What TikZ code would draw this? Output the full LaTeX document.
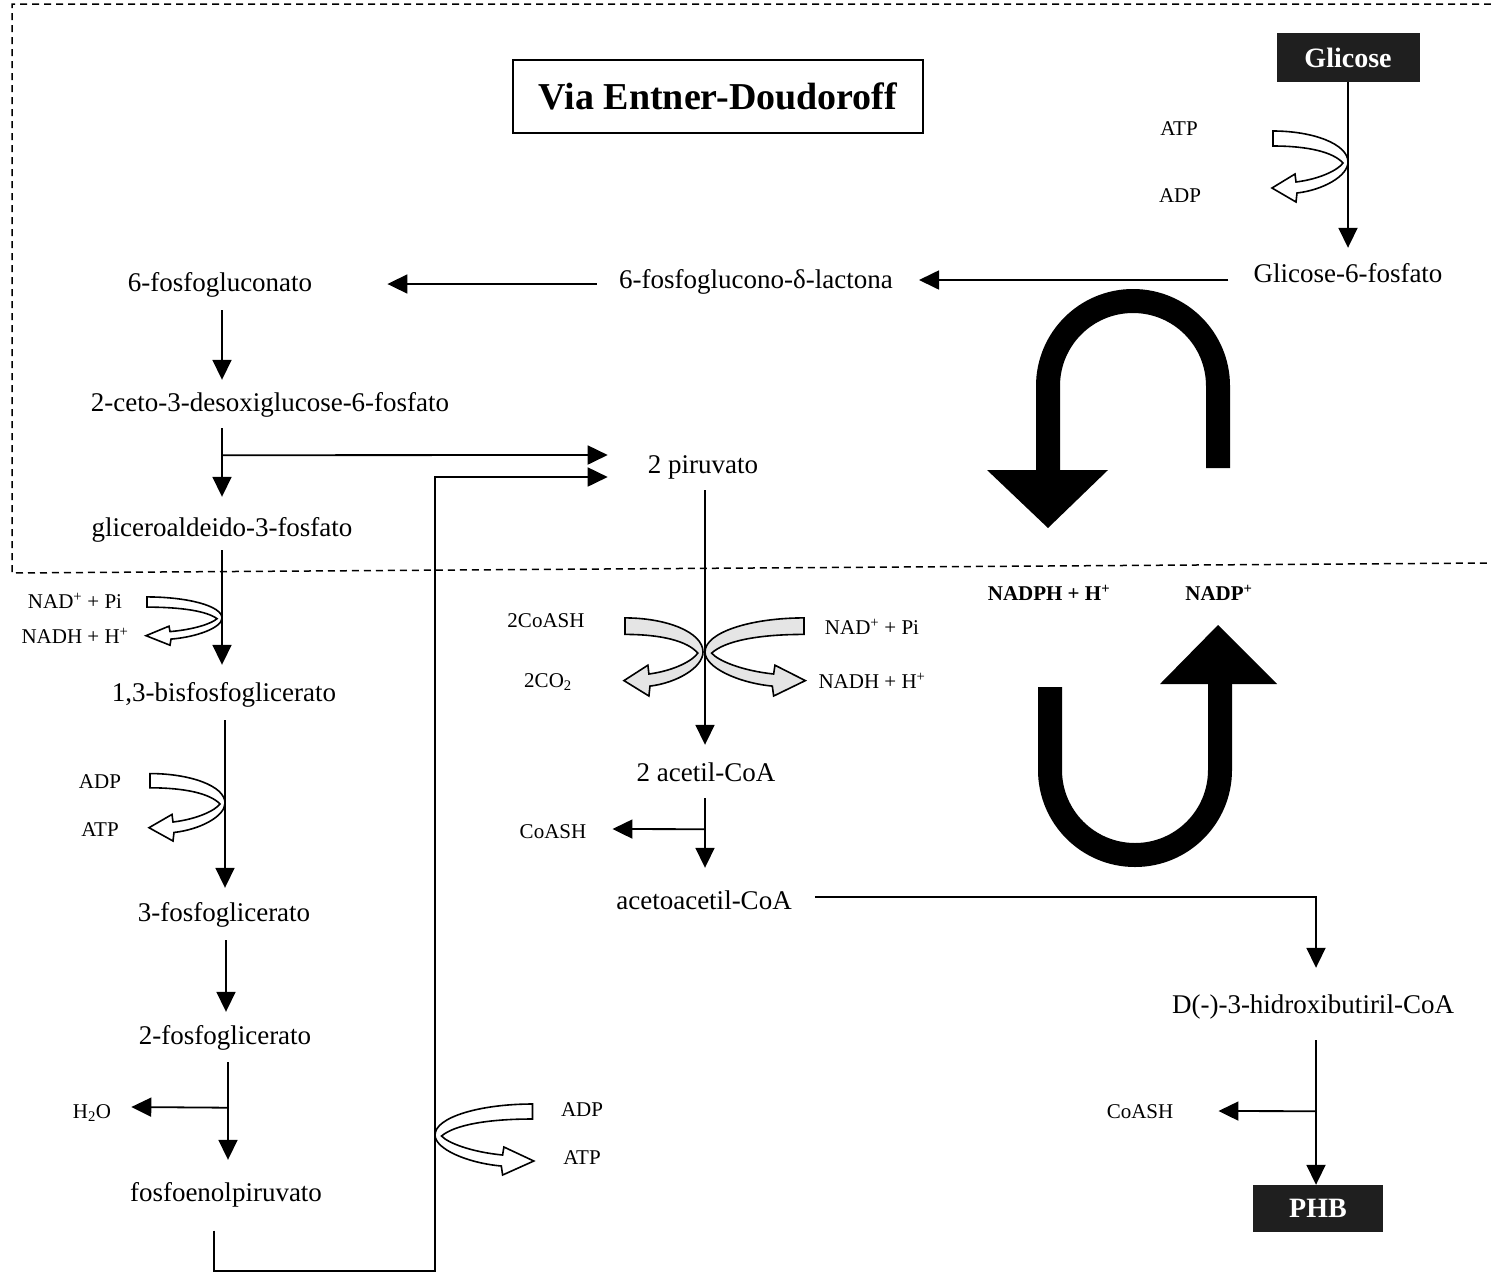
\documentclass[tikz,border=0pt]{standalone}
\usepackage{fontspec}
\setmainfont{Liberation Serif}
\usetikzlibrary{arrows.meta}
\tikzset{
  lbl/.style={inner sep=0pt, text height=19pt, text depth=6pt, font=\fontsize{27}{30}\selectfont},
  sml/.style={inner sep=0pt, font=\fontsize{21}{24}\selectfont},
  smb/.style={inner sep=0pt, font=\fontsize{21}{24}\selectfont\bfseries},
  arr/.style={line width=1.8pt, -{Triangle[length=20pt,width=19pt]}},
  darkbox/.style={fill=black!88, text=white, font=\fontsize{28}{30}\selectfont\bfseries, inner sep=0pt},
  bigarr/.style={line width=24pt},
  hollow/.style={line width=1.6pt, line join=miter},
}
\newcommand\hollowarr[5]{%
  \begin{scope}[shift={(#1,#2)},xscale=#3,yscale=#4]
    \filldraw[hollow, fill=#5] (-75,-31) .. controls (-35,-31) and (0,-18) .. (0,0)
      .. controls (0,14) and (-25,28) .. (-51,31) -- (-52,40) -- (-76,26) -- (-53,12) -- (-52,20)
      .. controls (-28,17) and (-10,8) .. (-5,1)
      .. controls (-15,-10) and (-40,-16) .. (-75,-16) -- cycle;
  \end{scope}}
\begin{document}
\begin{tikzpicture}[x=1pt,y=-1pt]
\useasboundingbox (0,0) rectangle (1491,1275);
\fill[white] (0,0) rectangle (1491,1275);
% dashed region
\draw[dash pattern=on 7pt off 5pt, line width=1.5pt] (1491,4) -- (12,4) -- (12,573) -- (1491,563);
% title
\node[draw, line width=1.5pt, minimum width=410pt, minimum height=73pt, inner sep=0pt,
      font=\fontsize{38}{41}\selectfont\bfseries] (title) at (718,96.5) {Via Entner-Doudoroff};
% boxes
\node[darkbox, minimum width=143pt, minimum height=49pt] (glc) at (1348,57.5) {Glicose};
\node[darkbox, minimum width=130pt, minimum height=47pt] (phb) at (1318,1208.5) {PHB};
% main labels
\node[lbl] (g6p) at (1348,276) {Glicose-6-fosfato};
\node[lbl] (lac) at (756,282) {6-fosfoglucono-δ-lactona};
\node[lbl] (fgn) at (220,285) {6-fosfogluconato};
\node[lbl] (kdpg) at (270,405) {2-ceto-3-desoxiglucose-6-fosfato};
\node[lbl] (gap) at (222,530) {gliceroaldeido-3-fosfato};
\node[lbl] (bpg) at (224,695) {1,3-bisfosfoglicerato};
\node[lbl] (pg3) at (224,915) {3-fosfoglicerato};
\node[lbl] (pg2) at (225,1038) {2-fosfoglicerato};
\node[lbl] (pep) at (226,1195) {fosfoenolpiruvato};
\node[lbl] (pyr) at (703,467) {2 piruvato};
\node[lbl] (acoa) at (706,775) {2 acetil-CoA};
\node[lbl] (aacoa) at (704,903) {acetoacetil-CoA};
\node[lbl] (hbcoa) at (1313,1007) {D(-)-3-hidroxibutiril-CoA};
% small labels
\node[sml] (atp1) at (1179,129) {ATP};
\node[sml] (adp1) at (1180,196) {ADP};
\node[sml] (nadpi1) at (75,601) {NAD\textsuperscript{+} + Pi};
\node[sml] (nadh1) at (75,636) {NADH + H\textsuperscript{+}};
\node[sml] (adp2) at (100,782) {ADP};
\node[sml] (atp2) at (100,830) {ATP};
\node[sml] (h2o) at (92,1113) {H\textsubscript{2}O};
\node[sml] (adp3) at (582,1110) {ADP};
\node[sml] (atp3) at (582,1158) {ATP};
\node[sml] (coash2) at (546,621) {2CoASH};
\node[sml] (co2) at (548,682) {2CO\textsubscript{2}};
\node[sml] (nadpi2) at (872,627) {NAD\textsuperscript{+} + Pi};
\node[sml] (nadh2) at (872,681) {NADH + H\textsuperscript{+}};
\node[sml] (coash1) at (553,832) {CoASH};
\node[sml] (coash3) at (1140,1112) {CoASH};
\node[smb] (nadph) at (1049,593) {NADPH + H\textsuperscript{+}};
\node[smb] (nadp) at (1219,593) {NADP\textsuperscript{+}};
% connectors
\draw[arr] (glc.south) -- ([shift={(0,-15.5)}]g6p.north);
\draw[arr] ([shift={(-25,4)}]g6p.west) -- ([shift={(26,-2)}]lac.east);
\draw[arr] ([shift={(-22,2)}]lac.west) -- ([shift={(75,-1)}]fgn.east);
\draw[arr] ([shift={(2,12.5)}]fgn.south) -- ([shift={(-48,-12.5)}]kdpg.north);
\draw[arr] ([shift={(-48,10.5)}]kdpg.south) -- ([shift={(0,-20.5)}]gap.north);
\draw[arr] ([shift={(-48,37.5)}]kdpg.south) -- ([shift={(-40,-12)}]pyr.west);
\draw[arr] ([shift={(0,7.5)}]gap.south) -- ([shift={(-2,-17.5)}]bpg.north);
\draw[arr] ([shift={(1,12.5)}]bpg.south) -- ([shift={(1,-14.5)}]pg3.north);
\draw[arr] ([shift={(2,12.5)}]pg3.south) -- ([shift={(1,-13.5)}]pg2.north);
\draw[arr] ([shift={(3,11.5)}]pg2.south) -- ([shift={(2,-22.5)}]pep.north);
\draw[arr] ([shift={(3,57)}]pg2.south) -- ([shift={(20,-6)}]h2o.east);
\draw[arr] ([shift={(-12,23)}]pep.south) -- ++(0,40) -- ++(221,0) |- ([shift={(-40,10)}]pyr.west);
\draw[arr] ([shift={(2,10.5)}]pyr.south) -- ([shift={(-1,-17.5)}]acoa.north);
\draw[arr] ([shift={(-1,10.5)}]acoa.south) -- ([shift={(1,-22.5)}]aacoa.north);
\draw[arr] ([shift={(-1,41.5)}]acoa.south) -- ([shift={(26,-3)}]coash1.east);
\draw[arr] ([shift={(23,-6)}]aacoa.east) -| ([shift={(3,-26.5)}]hbcoa.north);
\draw[arr] ([shift={(3,20.5)}]hbcoa.south) -- ([shift={(-2,0)}]phb.north);
\draw[arr] ([shift={(3,91.5)}]hbcoa.south) -- ([shift={(45,-1)}]coash3.east);
% hollow curved arrows
\hollowarr{1348}{162}{1}{1}{white}
\hollowarr{222}{618}{1}{0.68}{white}
\hollowarr{225}{803}{1}{0.95}{white}
\hollowarr{435}{1135}{-1.3}{1}{white}
\hollowarr{703}{652}{1.04}{1.1}{black!10}
\hollowarr{705}{652}{-1.32}{1.1}{black!10}
% big black arrows
\fill (987,470) -- (1108,470) -- (1048,528) -- cycle;
\draw[bigarr] (1218,468) -- (1218,386) .. controls (1218,339) and (1180,301) .. (1133,301)
  .. controls (1086,301) and (1048,339) .. (1048,386) -- (1048,471);
\fill (1160,684) -- (1277,684) -- (1218,625) -- cycle;
\draw[bigarr] (1050,687) -- (1050,770) .. controls (1050,817) and (1088,855) .. (1135,855)
  .. controls (1182,855) and (1220,817) .. (1220,770) -- (1220,683);
\end{tikzpicture}
\end{document}
